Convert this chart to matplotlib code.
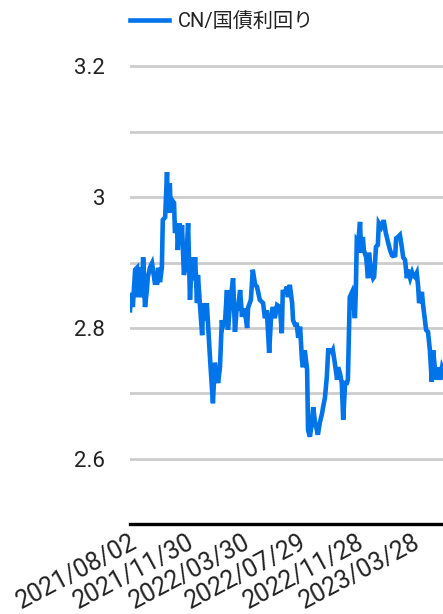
import matplotlib
matplotlib.use("Agg")
import matplotlib.pyplot as plt
from matplotlib.ticker import FixedLocator, FuncFormatter
import pandas as pd

plt.rcParams['font.family'] = ['Roboto', 'Noto Sans CJK JP', 'DejaVu Sans']

series_name = "CN/国債利回り"
start_date = "2021-08-02"
day_offsets = [
    0, 2, 4, 6, 11, 15, 17, 21, 26, 28, 32, 36, 38, 43, 47, 49, 53, 58, 60, 64,
    68, 70, 75, 79, 81, 85, 87, 90, 94, 96, 100, 102, 105, 109, 111, 115, 120, 124, 128, 132,
    134, 139, 143, 145, 149, 154, 156, 160, 164, 166, 171, 177, 181, 188, 192, 196, 198, 203, 207, 209,
    213, 220, 224, 228, 230, 235, 239, 241,
    245, 250, 252, 258, 262, 267, 271, 277, 284, 288, 292, 297, 301, 305, 309, 314, 320, 324, 326, 331,
    335, 337, 341, 346, 348, 352, 356, 359, 363, 367, 369, 373, 378, 380, 384, 388, 391, 395, 399, 401,
    405, 410, 412, 416, 420, 423, 427, 431, 433, 437, 442, 444, 448, 452, 455, 459, 463, 465, 469, 474,
    476, 480, 482, 484, 487, 491, 493, 497, 499, 504, 508, 510, 514, 519, 521, 525, 529, 531, 536, 540,
    542, 546, 551, 555, 559, 561, 566, 568, 572, 576, 580, 583, 587, 591, 593, 598, 602, 604, 608, 612,
    615, 617, 623, 625, 632, 636, 640, 644, 647, 651, 655, 657, 662, 666, 670,
]
yields = [
    2.827, 2.849, 2.853, 2.832, 2.889, 2.892, 2.847, 2.893, 2.847, 2.908, 2.832, 2.858, 2.878, 2.893, 2.899,
    2.889, 2.869, 2.869, 2.892, 2.870, 2.892, 2.965, 2.969, 3.038, 2.976, 3.021, 2.976, 2.995, 2.991, 2.945,
    2.960, 2.919, 2.960, 2.934, 2.957, 2.881, 2.899, 2.960, 2.843, 2.908, 2.873, 2.908, 2.838, 2.881, 2.838,
    2.789, 2.838, 2.812, 2.838, 2.812, 2.751, 2.685, 2.747, 2.716, 2.740, 2.812, 2.802, 2.812, 2.858, 2.797,
    2.832, 2.876, 2.794, 2.832, 2.827, 2.858, 2.817, 2.827,
    2.827, 2.800, 2.831, 2.843, 2.889, 2.866, 2.863, 2.843, 2.838, 2.815, 2.827, 2.762, 2.817, 2.832, 2.815,
    2.835, 2.832, 2.792, 2.855, 2.855, 2.863, 2.847, 2.866, 2.838, 2.812, 2.805, 2.805, 2.785, 2.802, 2.751,
    2.740, 2.766, 2.736, 2.644, 2.634, 2.655, 2.679, 2.655, 2.644, 2.637, 2.655, 2.670, 2.679, 2.693, 2.725,
    2.766, 2.766, 2.763, 2.766, 2.747, 2.721, 2.740, 2.731, 2.716, 2.660, 2.716, 2.716, 2.721, 2.847, 2.855,
    2.847, 2.815, 2.858, 2.934, 2.931, 2.962, 2.915, 2.939, 2.919, 2.908, 2.876, 2.915, 2.889, 2.876, 2.878,
    2.924, 2.927, 2.960, 2.954, 2.962, 2.962, 2.945, 2.930, 2.919, 2.911, 2.910, 2.911, 2.937, 2.939, 2.942,
    2.924, 2.908, 2.904, 2.876, 2.889, 2.876, 2.885, 2.881, 2.878, 2.884, 2.863, 2.838, 2.855, 2.838, 2.797,
    2.794, 2.766, 2.718, 2.766, 2.736, 2.721, 2.740, 2.721, 2.740, 2.733,
]
x_tick_labels = ["2021/08/02", "2021/11/30", "2022/03/30", "2022/07/29", "2022/11/28", "2023/03/28"]
y_major = [2.6, 2.8, 3.0, 3.2]
y_minor = [2.7, 2.9, 3.1]
visible_days = 668

dates = pd.Timestamp(start_date) + pd.to_timedelta(day_offsets, unit="D")
tick_dates = pd.to_datetime(x_tick_labels, format="%Y/%m/%d")

fig = plt.figure(figsize=(4.43, 6.14), dpi=100)
ax = fig.add_axes([130 / 443, 0.1458, 1 - 130 / 443, 0.80])

line_color = "#0074E8"
ax.plot(dates, yields, color=line_color, lw=3.3, label=series_name, solid_joinstyle="miter")

ax.set_xlim(pd.Timestamp(start_date), pd.Timestamp(start_date) + pd.Timedelta(days=visible_days))
ax.set_ylim(2.5, 3.25)

ax.yaxis.set_major_locator(FixedLocator(y_major))
ax.yaxis.set_minor_locator(FixedLocator(y_minor))
ax.yaxis.set_major_formatter(FuncFormatter(lambda v, p: f"{v:g}"))
ax.grid(True, axis="y", which="both", color="#cccccc", lw=2.0)
ax.set_axisbelow(True)

ax.set_xticks(tick_dates)
ax.set_xticklabels(x_tick_labels, rotation=28, ha="right", rotation_mode="anchor", va="top")

ax.tick_params(axis="both", which="both", length=0, colors="#222222")
ax.tick_params(axis="y", labelsize=16, pad=18)
ax.tick_params(axis="x", labelsize=18, pad=4)

for s in ["top", "right", "left"]:
    ax.spines[s].set_visible(False)
ax.spines["bottom"].set_color("black")
ax.spines["bottom"].set_linewidth(2.4)
ax.spines["bottom"].set_zorder(5)

fig.legend(loc="center left", bbox_to_anchor=(130 / 443, 1 - 22 / 614), frameon=False,
           fontsize=14.5, handlelength=1.95, handletextpad=0.45, borderpad=0, borderaxespad=0,
           labelcolor="#222222")

fig.savefig("out.png", dpi=100)
